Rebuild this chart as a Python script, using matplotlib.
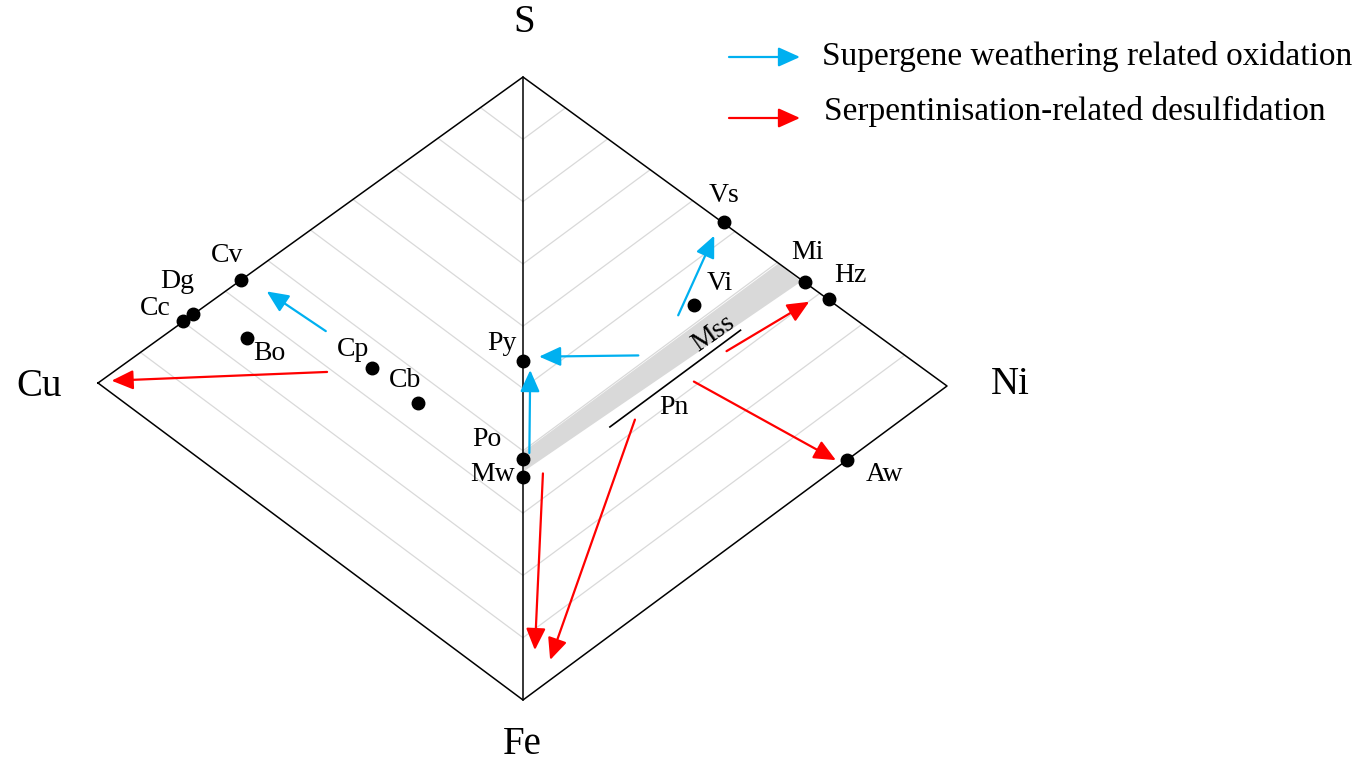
import numpy as np
import matplotlib.pyplot as plt
from matplotlib.patches import Polygon

plt.rcParams['font.family'] = ['Liberation Serif', 'DejaVu Serif']

# corner positions of the double ternary (figure pixels, y down)
S_PT = np.array([523.0, 77.0])
CU_PT = np.array([98.0, 383.0])
NI_PT = np.array([947.0, 386.0])
FE_PT = np.array([523.0, 700.0])

# minerals, wt.% -- Cu-S-Fe side: (Cu, S)
cu_names = ['Cc', 'Dg', 'Cv', 'Bo', 'Cp', 'Cb']
cu_cu = [79.9, 77.6, 66.4, 65.0, 35.5, 24.8]
cu_s = [20.1, 22.4, 33.6, 25.1, 35.2, 35.1]

# Ni-S-Fe side: (Ni, S); Fe-S phases sit on the S-Fe join
ni_names = ['Py', 'Po', 'Mw', 'Vs', 'Mi', 'Hz', 'Vi', 'Aw']
ni_ni = [0.0, 0.0, 0.0, 47.4, 66.5, 72.2, 40.4, 76.3]
ni_s = [54.4, 38.7, 35.8, 52.8, 33.6, 28.0, 43.1, 0.0]

# monosulfide solid solution field (Ni, S)
mss_ni = [0.0, 60.2, 65.6, 0.0]
mss_s = [39.8, 39.7, 34.1, 36.6]

# pentlandite join
pn_s = 33.5
pn_ni = [20.5, 51.3]

# alteration paths: side, (metal, S) start, (metal, S) end
oxidation = [
    ('Cu', (46.4, 35.6), (60.3, 34.9)),
    ('Ni', (27.2, 41.6), (3.8, 53.2)),
    ('Ni', (1.5, 38.9), (1.7, 52.1)),
    ('Ni', (36.6, 43.3), (45.1, 51.8)),
]
desulf = [
    ('Cu', (46.1, 29.2), (96.8, 2.0)),
    ('Ni', (48.0, 31.8), (67.5, 29.9)),
    ('Ni', (40.3, 30.8), (73.8, 1.3)),
    ('Ni', (4.7, 34.0), (2.8, 6.6)),
    ('Ni', (26.4, 31.7), (6.4, 3.2)),
]

grid_s = np.arange(10, 100, 10)

BLUE = '#00b0f0'
RED = '#ff0000'


def tern(side, m, s):
    m = np.asarray(m, float) / 100
    s = np.asarray(s, float) / 100
    corner = CU_PT if side == 'Cu' else NI_PT
    pts = np.multiply.outer(m, corner) + np.multiply.outer(s, S_PT) \
        + np.multiply.outer(1 - m - s, FE_PT)
    return pts[..., 0], pts[..., 1]


fig = plt.figure(figsize=(13.69, 7.68), dpi=100)
ax = fig.add_axes([0, 0, 1, 1])
ax.set_xlim(0, 1369)
ax.set_ylim(768, 0)
ax.axis('off')

# constant-S grid lines on both triangles
for s in grid_s:
    for side in ('Cu', 'Ni'):
        x, y = tern(side, [100 - s, 0], [s, s])
        ax.plot(x, y, color='#d9d9d9', lw=0.9, zorder=1)

# Mss field
mx, my = tern('Ni', mss_ni, mss_s)
ax.add_patch(Polygon(np.column_stack([mx, my]), closed=True,
                     facecolor='#d9d9d9', edgecolor='none', zorder=2))

# outline
ox = [CU_PT[0], S_PT[0], NI_PT[0], FE_PT[0], CU_PT[0]]
oy = [CU_PT[1], S_PT[1], NI_PT[1], FE_PT[1], CU_PT[1]]
ax.plot(ox, oy, color='black', lw=1.1, zorder=3)
ax.plot([S_PT[0], FE_PT[0]], [S_PT[1], FE_PT[1]], color='black', lw=1.1, zorder=3)

# pentlandite join
px, py = tern('Ni', pn_ni, [pn_s, pn_s])
ax.plot(px, py, color='black', lw=1.2, zorder=3)


def draw_arrow(p0, p1, color):
    ax.annotate('', xy=p1, xytext=p0,
                arrowprops=dict(arrowstyle='-|>,head_length=0.6,head_width=0.27',
                                mutation_scale=22, color=color, lw=1.6,
                                shrinkA=0, shrinkB=0), zorder=4)


for paths, color in ((oxidation, BLUE), (desulf, RED)):
    for side, a, b in paths:
        x0, y0 = tern(side, a[0], a[1])
        x1, y1 = tern(side, b[0], b[1])
        draw_arrow((float(x0), float(y0)), (float(x1), float(y1)), color)

# mineral points and labels
label_off = {
    'Cc': (-28, -13), 'Dg': (-16, -33), 'Cv': (-14, -25), 'Bo': (23, 16),
    'Cp': (-19, -19), 'Cb': (-13, -22), 'Py': (-21, -18), 'Po': (-36, -19),
    'Mw': (-30, -2), 'Vs': (0, -27), 'Mi': (2, -29), 'Hz': (21, -23),
    'Vi': (26, -21), 'Aw': (38, 14),
}
for side, names, ms, ss in (('Cu', cu_names, cu_cu, cu_s),
                             ('Ni', ni_names, ni_ni, ni_s)):
    xs, ys = tern(side, ms, ss)
    ax.plot(xs, ys, 'o', color='black', ms=9, zorder=5)
    for name, x, y in zip(names, xs, ys):
        dx, dy = label_off[name]
        ax.text(x + dx, y + dy, name, fontsize=20, ha='center', va='center',
                zorder=6)

ax.text(713, 333, 'Mss', fontsize=20, rotation=35, ha='center', va='center',
        rotation_mode='anchor', zorder=6)
ax.text(674, 408, 'Pn', fontsize=20, ha='center', va='center', zorder=6)

# corner labels
ax.text(524, 22, 'S', fontsize=28, ha='center', va='center')
ax.text(39, 386, 'Cu', fontsize=28, ha='center', va='center')
ax.text(1010, 385, 'Ni', fontsize=28, ha='center', va='center')
ax.text(522, 744, 'Fe', fontsize=28, ha='center', va='center')

# key
draw_arrow((729, 57), (800, 57), BLUE)
draw_arrow((729, 118), (800, 118), RED)
ax.text(822, 57, 'Supergene weathering related oxidation', fontsize=24,
        ha='left', va='center')
ax.text(824, 111, 'Serpentinisation-related desulfidation', fontsize=24,
        ha='left', va='center')

fig.savefig('out.png', dpi=100)
